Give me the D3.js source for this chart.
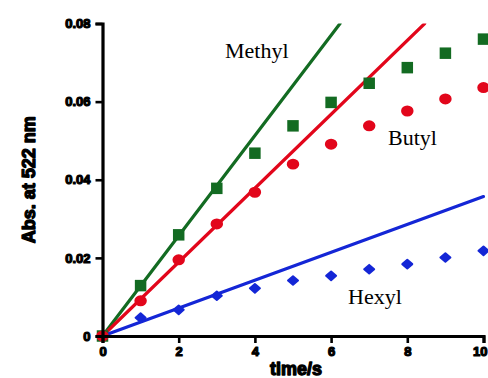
<!DOCTYPE html>
<html>
<head>
<meta charset="utf-8">
<script src="https://cdn.jsdelivr.net/npm/d3@7"></script>
<style>
  html, body { margin: 0; padding: 0; background: #fff; }
  svg { display: block; }
</style>
</head>
<body>
<svg id="chart" width="488" height="378"></svg>
<script>
// Absorbance at 522 nm over time for three alkyl derivatives
const times = [0, 1, 2, 3, 4, 5, 6, 7, 8, 9, 10];
const methyl = [0, 0.0129, 0.0259, 0.0378, 0.0468, 0.0538, 0.0598, 0.0647, 0.0687, 0.0724, 0.0760];
const butyl  = [0, 0.0090, 0.0195, 0.0287, 0.0368, 0.0440, 0.0491, 0.0538, 0.0576, 0.0607, 0.0636];
const hexyl  = [0, 0.0047, 0.0067, 0.0103, 0.0122, 0.0142, 0.0154, 0.0171, 0.0184, 0.0201, 0.0218];
// Initial-rate slopes (Abs per second) of the fitted lines through the origin
const slopes = { methyl: 0.01283, butyl: 0.00946, hexyl: 0.00357 };
const xTicks = [0, 2, 4, 6, 8, 10];
const yTicks = [0, 0.02, 0.04, 0.06, 0.08];
const yTickLabels = ["0", "0.02", "0.04", "0.06", "0.08"];

const W = 488;
const svg = d3.select("#chart");
const x = d3.scaleLinear().domain([0, 10]).range([102.5, 483.5]);
const y = d3.scaleLinear().domain([0, 0.08]).range([336, 23.5]);

const defs = svg.append("defs");
defs.append("clipPath").attr("id", "plotclip")
  .append("rect").attr("x", 100).attr("y", y(0.08)).attr("width", 400).attr("height", 336 - y(0.08) + 10);

const series = [
  { name: "Methyl", values: methyl, slope: slopes.methyl, color: "#136b22", shape: "square" },
  { name: "Butyl",  values: butyl,  slope: slopes.butyl,  color: "#e2061b", shape: "circle" },
  { name: "Hexyl",  values: hexyl,  slope: slopes.hexyl,  color: "#1426d6", shape: "diamond" }
];

const plot = svg.append("g").attr("clip-path", "url(#plotclip)");

// Fitted lines
series.forEach(s => {
  const tEnd = Math.min(10, 0.08 / s.slope);
  plot.append("line")
    .attr("x1", x(0)).attr("y1", y(0))
    .attr("x2", x(tEnd)).attr("y2", y(s.slope * tEnd))
    .attr("stroke", s.color).attr("stroke-width", 3.2).attr("stroke-linecap", "round");
});

// Data markers (hexyl first, butyl on top)
const shapePath = {
  square: d3.symbol().type(d3.symbolSquare).size(132)(),
  circle: d3.symbol().type(d3.symbolCircle).size(105)(),
  diamond: "M-5,0L0,-4.3L5,0L0,4.3Z"
};
const shapeScale = { square: "", circle: " scale(1.08,0.95)", diamond: "" };
[series[0], series[2], series[1]].forEach(s => {
  svg.append("g").selectAll("path")
    .data(times.map((t, i) => [t, s.values[i]]))
    .join("path")
    .attr("transform", d => `translate(${x(d[0])},${y(d[1])})` + shapeScale[s.shape])
    .attr("d", shapePath[s.shape])
    .attr("fill", s.color)
    .attr("stroke", s.shape === "diamond" ? s.color : "none")
    .attr("stroke-width", 2).attr("stroke-linejoin", "round");
});

// Axes
const tickFont = "'Liberation Sans', Arial, sans-serif";
const xAxis = svg.append("g").attr("transform", `translate(0,${y(0)})`)
  .call(d3.axisBottom(x).tickValues(xTicks).tickFormat(d3.format("d")).tickSize(7).tickPadding(4));
const yAxis = svg.append("g").attr("transform", `translate(${x(0)},0)`)
  .call(d3.axisLeft(y).tickValues(yTicks).tickFormat((d, i) => yTickLabels[i]).tickSize(7).tickPadding(5));

[xAxis, yAxis].forEach(g => {
  g.select(".domain").attr("stroke", "#000").attr("stroke-width", 3.2);
  g.selectAll(".tick line").attr("stroke", "#000").attr("stroke-width", 2.6);
  g.selectAll(".tick text")
    .attr("fill", "#000").attr("stroke", "#000").attr("stroke-width", 1.2).attr("stroke-linejoin", "round")
    .style("font-family", tickFont).style("font-weight", "bold").style("font-size", "13px");
});

// Keep the last x tick label inside the drawing area
xAxis.selectAll(".tick").filter(d => d === 10).select("text")
  .attr("text-anchor", "end").attr("x", (W - 1) - x(10));

// Axis titles
svg.append("text")
  .attr("transform", `translate(35,${(y(0) + y(0.08)) / 2}) rotate(-90)`)
  .attr("text-anchor", "middle")
  .attr("fill", "#000").attr("stroke", "#000").attr("stroke-width", 1.3).attr("stroke-linejoin", "round")
  .style("font-family", tickFont).style("font-weight", "bold").style("font-size", "18px")
  .text("Abs. at 522 nm");

svg.append("text")
  .attr("x", 296).attr("y", 374.5)
  .attr("text-anchor", "middle")
  .attr("fill", "#000").attr("stroke", "#000").attr("stroke-width", 1.3).attr("stroke-linejoin", "round")
  .style("font-family", tickFont).style("font-weight", "bold").style("font-size", "18px")
  .text("time/s");

// Series labels
const serif = "'Liberation Serif', 'Times New Roman', serif";
[["Methyl", 225, 58], ["Butyl", 388, 145], ["Hexyl", 348, 304]].forEach(([t, lx, ly]) => {
  svg.append("text").attr("x", lx).attr("y", ly)
    .attr("fill", "#000")
    .style("font-family", serif).style("font-size", "22px")
    .text(t);
});
</script>
</body>
</html>
